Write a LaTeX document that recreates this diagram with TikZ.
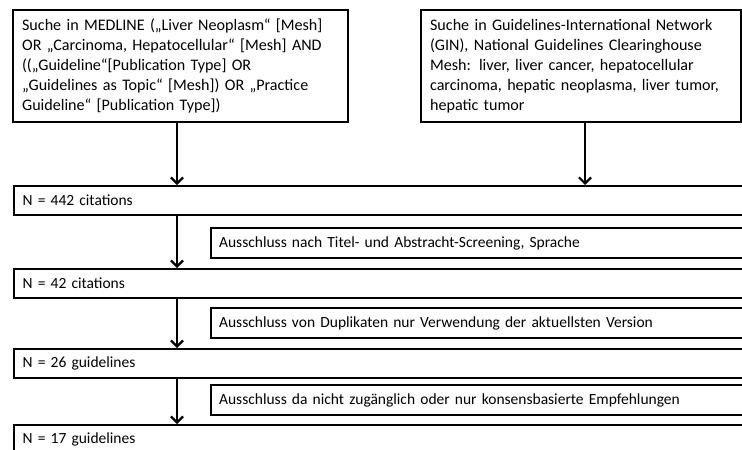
\documentclass[tikz,border=0pt]{standalone}
\usepackage{fontspec}
\setmainfont{Carlito}
\usepackage{tikz}
\usetikzlibrary{arrows.meta,positioning}

\tikzset{
  box/.style={draw, line width=2.2pt, rectangle, inner xsep=9pt, inner ysep=0pt,
    anchor=north west, align=left, font=\fontsize{15.5}{20}\selectfont},
  srcbox/.style={box, minimum height=112pt, font=\fontsize{16.1}{20}\selectfont},
  countbox/.style={box, text width=740pt, minimum height=29pt},
  dropbox/.style={box, text width=540pt, minimum height=30pt, inner xsep=8pt},
  flow/.style={line width=2.2pt, -{Straight Barb[length=6pt,width=12pt,line width=2.2pt]}}
}

\begin{document}
\begin{tikzpicture}[x=1pt, y=-1pt]

  \useasboundingbox (0,0) rectangle (742,450);
  \clip (0,0) rectangle (742,450);

  %% search boxes
  \node[srcbox, text width=317pt] (medline) at (12,9)
    {Suche in MEDLINE („Liver Neoplasm“ [Mesh]\\
     OR „Carcinoma, Hepatocellular“ [Mesh] AND\\
     ((„Guideline“[Publication Type] OR\\
     „Guidelines as Topic“ [Mesh]) OR „Practice\\
     Guideline“ [Publication Type])};
  \node[srcbox, text width=302pt] (gin) at (420,9)
    {Suche in Guidelines-International Network\\
     (GIN), National Guidelines Clearinghouse\\
     Mesh: liver, liver cancer, hepatocellular\\
     carcinoma, hepatic neoplasma, liver tumor,\\
     hepatic tumor};

  %% counts and exclusions
  \node[countbox] (n442) at (12.5,185) {N = 442 citations};
  \node[dropbox]  (ex1)  at (210,227)  {Ausschluss nach Titel- und Abstracht-Screening, Sprache};
  \node[countbox] (n42)  at (12.5,268) {N = 42 citations};
  \node[dropbox]  (ex2)  at (210,307)  {Ausschluss von Duplikaten nur Verwendung der aktuellsten Version};
  \node[countbox] (n26)  at (12.5,348) {N = 26 guidelines};
  \node[dropbox]  (ex3)  at (210,384)  {Ausschluss da nicht zugänglich oder nur konsensbasierte Empfehlungen};
  \node[countbox] (n17)  at (12.5,424) {N = 17 guidelines};

  \coordinate (colA) at (177,0);
  \coordinate (colB) at (585,0);

  \draw[flow] (medline.south -| colA) -- (n442.north -| colA); % MEDLINE->442
  \draw[flow] (gin.south -| colB) -- (n442.north -| colB);     % GIN->442
  \draw[flow] (n442.south -| colA) -- (n42.north -| colA);
  \draw[flow] (n42.south -| colA) -- (n26.north -| colA);
  \draw[flow] (n26.south -| colA) -- (n17.north -| colA);

\end{tikzpicture}
\end{document}
